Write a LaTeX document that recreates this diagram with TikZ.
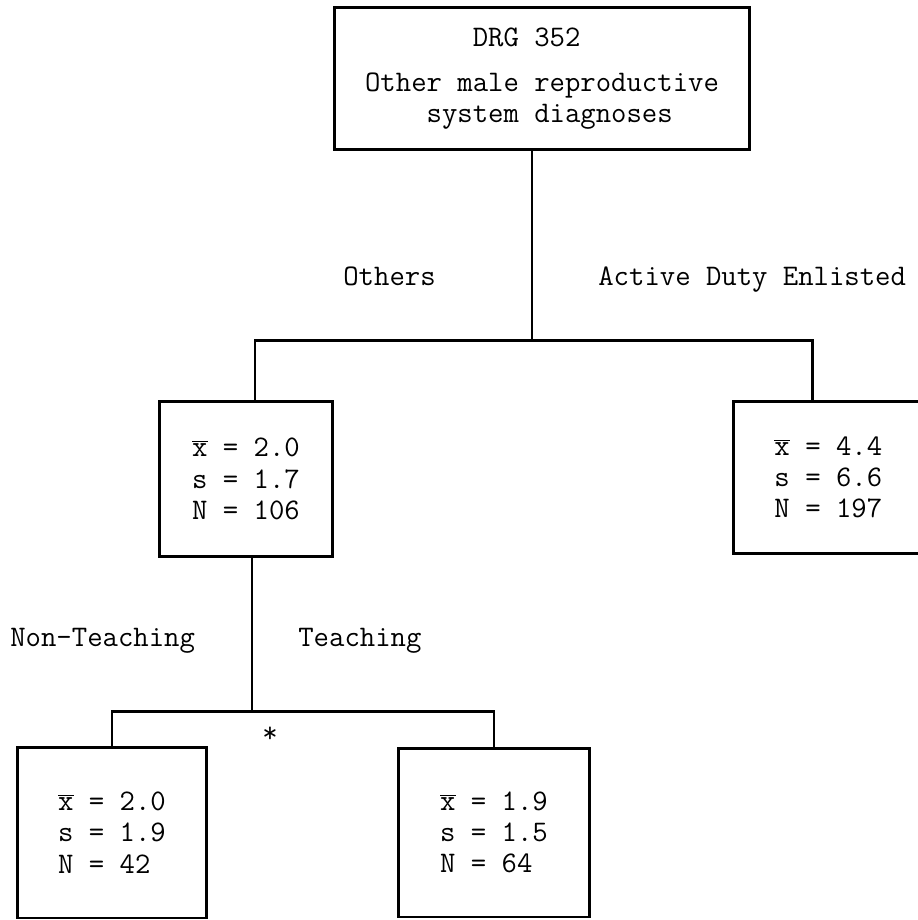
\documentclass[tikz,border=0pt]{standalone}
\usepackage{tikz}
\usetikzlibrary{calc}
\tikzset{>=stealth}

\newcommand{\xbar}{$\overline{\mbox{x}}$}

\begin{document}
\begin{tikzpicture}[x=0.02cm,y=-0.02cm,
    box/.style={draw,line width=1.7pt,align=left,inner sep=0pt,
      font=\fontsize{17}{17.8}\selectfont\ttfamily},
    lbl/.style={inner sep=0pt,font=\fontsize{17}{17.8}\selectfont\ttfamily},
    link/.style={line width=1.7pt}]
  \useasboundingbox (0,0) rectangle (918,920);

  % boxes
  \node[box,minimum width=8.32cm,minimum height=2.86cm] (drg) at (542,78.5)
    {\phantom{0000000}DRG 352\\[0.27cm]
     Other male reproductive\\
     \phantom{0000}system diagnoses};

  \node[box,minimum width=3.48cm,minimum height=3.12cm] (others) at (246,479)
    {\xbar{} = 2.0\\ s = 1.7\\ N = 106};
  % cut off at the right edge: only three sides drawn
  \node[box,draw=none,anchor=west,inner xsep=0.8cm,minimum height=2.98cm]
    (enlisted) at (733,477.5)
    {\xbar{} = 4.4\\ s = 6.6\\ N = 197};
  \draw[link] (enlisted.north east) ++(0.2cm,0) -- (enlisted.north west)
    -- (enlisted.south west) -- ++(9.6cm,0);

  \node[box,minimum width=3.8cm,minimum height=3.42cm] (nonteach) at (112,832.5)
    {\xbar{} = 2.0\\ s = 1.9\\ N = 42};
  \node[box,minimum width=3.84cm,minimum height=3.38cm] (teach) at (494,832.5)
    {\xbar{} = 1.9\\ s = 1.5\\ N = 64};

  % split points
  \coordinate (fork1) at (532,340);
  \coordinate (forkL) at (255,340);
  \coordinate (forkR) at (812,340);
  \coordinate (fork2) at (252,711);

  % connectors
  \draw[link] (drg.south -| fork1) -- (fork1);
  \draw[link] (others.north -| forkL) -- (forkL) -- (forkR) -- (enlisted.north -| forkR);
  \draw[link] (others.south -| fork2) -- (fork2);
  \draw[link] (nonteach.north) -- (nonteach.north |- fork2) -- (teach.north |- fork2) -- (teach.north);

  % branch labels
  \node[lbl,anchor=base west] (othlbl) at (343,285) {Others};
  \node[lbl,anchor=base west] (adelbl) at (598,285) {Active Duty Enlisted};
  \node[lbl,anchor=base west] (ntlbl) at (10,646) {Non-Teaching};
  \node[lbl,anchor=base west] (tlbl) at (298,646) {Teaching};
  \node[lbl] (sig) at (270,735) {*};
\end{tikzpicture}
\end{document}
